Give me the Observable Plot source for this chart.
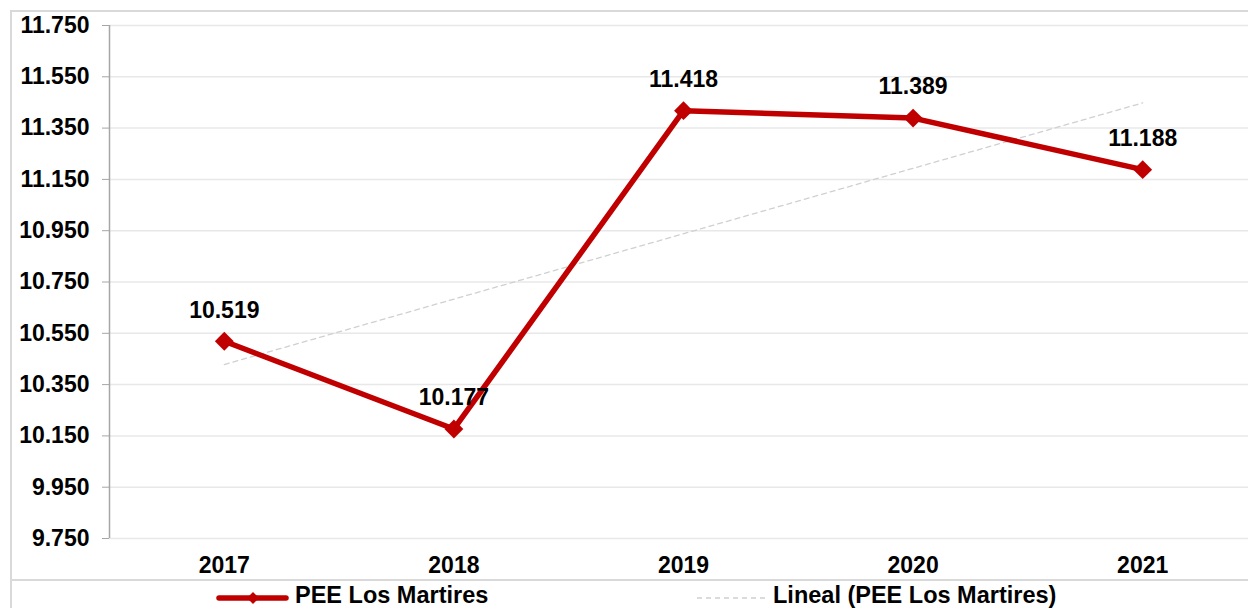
<!DOCTYPE html>
<html>
<head>
<meta charset="utf-8">
<script src="https://cdn.jsdelivr.net/npm/d3@7"></script>
<script src="https://cdn.jsdelivr.net/npm/@observablehq/plot@0.6"></script>
<style>
  html, body { margin: 0; padding: 0; background: #fff; overflow: hidden; }
  #wrap { position: relative; width: 1248px; height: 608px; overflow: hidden; font-family: "Liberation Sans", Arial, sans-serif; }
  #chart { position: absolute; left: 0; top: 0; width: 1260px; }
  #chart svg { max-width: none !important; }
  .bl { position: absolute; background: #d9d9d9; }
  .leg { position: absolute; font-weight: bold; font-size: 23.5px; color: #000; line-height: 1; white-space: nowrap; }
</style>
</head>
<body>
<div id="wrap">
  <div class="bl" style="left:10px; top:10px; width:2px; height:600px;"></div>
  <div class="bl" style="left:10px; top:10px; width:1240px; height:2px;"></div>
  <div class="bl" style="left:10px; top:579px; width:1240px; height:2px;"></div>
  <div id="chart"></div>
  <div id="legend"></div>
</div>
<script>
const years = [2017, 2018, 2019, 2020, 2021];
const values = [10519, 10177, 11418, 11389, 11188];
const yTicks = [9750, 9950, 10150, 10350, 10550, 10750, 10950, 11150, 11350, 11550, 11750];
const seriesName = "PEE Los Martires";
const trendName = "Lineal (PEE Los Martires)";

const data = years.map((y, i) => ({year: y, value: values[i]}));
const loc = d3.formatLocale({decimal: ",", thousands: ".", grouping: [3], currency: ["", ""]});
const fmt = loc.format(",d");
const red = "#c00000";

const chart = Plot.plot({
  width: 1260,
  height: 580,
  marginLeft: 109,
  marginRight: 3,
  marginTop: 25,
  marginBottom: 42,
  style: {fontFamily: "'Liberation Sans', Arial, sans-serif", background: "transparent", overflow: "visible", maxWidth: "none"},
  x: {type: "linear", domain: [2016.5, 2021.5]},
  y: {domain: [9750, 11750]},
  marks: [
    Plot.gridY(yTicks, {stroke: "#e8e8e8", strokeOpacity: 1, strokeWidth: 1.5}),
    Plot.ruleX([2016.5], {stroke: "#a6a6a6", strokeWidth: 1.5}),
    Plot.axisY(yTicks, {tickSize: 7, tickPadding: 13, tickFormat: fmt, fontSize: 23, fontWeight: "bold", stroke: "#a6a6a6", fill: "#000", label: null}),
    Plot.axisX(years, {tickSize: 0, tickPadding: 18, tickFormat: d => String(d), fontSize: 23, fontWeight: "bold", fill: "#000", label: null}),
    Plot.linearRegressionY(data, {x: "year", y: "value", ci: 0, stroke: "#d0d0d0", strokeWidth: 1.3, strokeDasharray: "5,4"}),
    Plot.line(data, {x: "year", y: "value", stroke: red, strokeWidth: 5.5}),
    Plot.dot(data, {x: "year", y: "value", symbol: "diamond2", r: 8.5, fill: red, stroke: "none"}),
    Plot.text(data, {x: "year", y: "value", text: d => fmt(d.value), dy: -31, fontSize: 23, fontWeight: "bold", fill: "#000"})
  ]
});
chart.style.maxWidth = "none";
document.getElementById("chart").appendChild(chart);

const legend = document.getElementById("legend");
legend.innerHTML = `
  <svg style="position:absolute; left:210px; top:588px;" width="90" height="20">
    <line x1="9" y1="10" x2="76" y2="10" stroke="${red}" stroke-width="5.5" stroke-linecap="round"/>
    <path d="M43,4 L49,10 L43,16 L37,10 Z" fill="${red}"/>
  </svg>
  <div class="leg" style="left:295px; top:584px;">${seriesName}</div>
  <svg style="position:absolute; left:690px; top:588px;" width="80" height="20">
    <line x1="7" y1="10" x2="75" y2="10" stroke="#d0d0d0" stroke-width="1.3" stroke-dasharray="5,4"/>
  </svg>
  <div class="leg" style="left:773px; top:584px;">${trendName}</div>
`;
</script>
</body>
</html>
